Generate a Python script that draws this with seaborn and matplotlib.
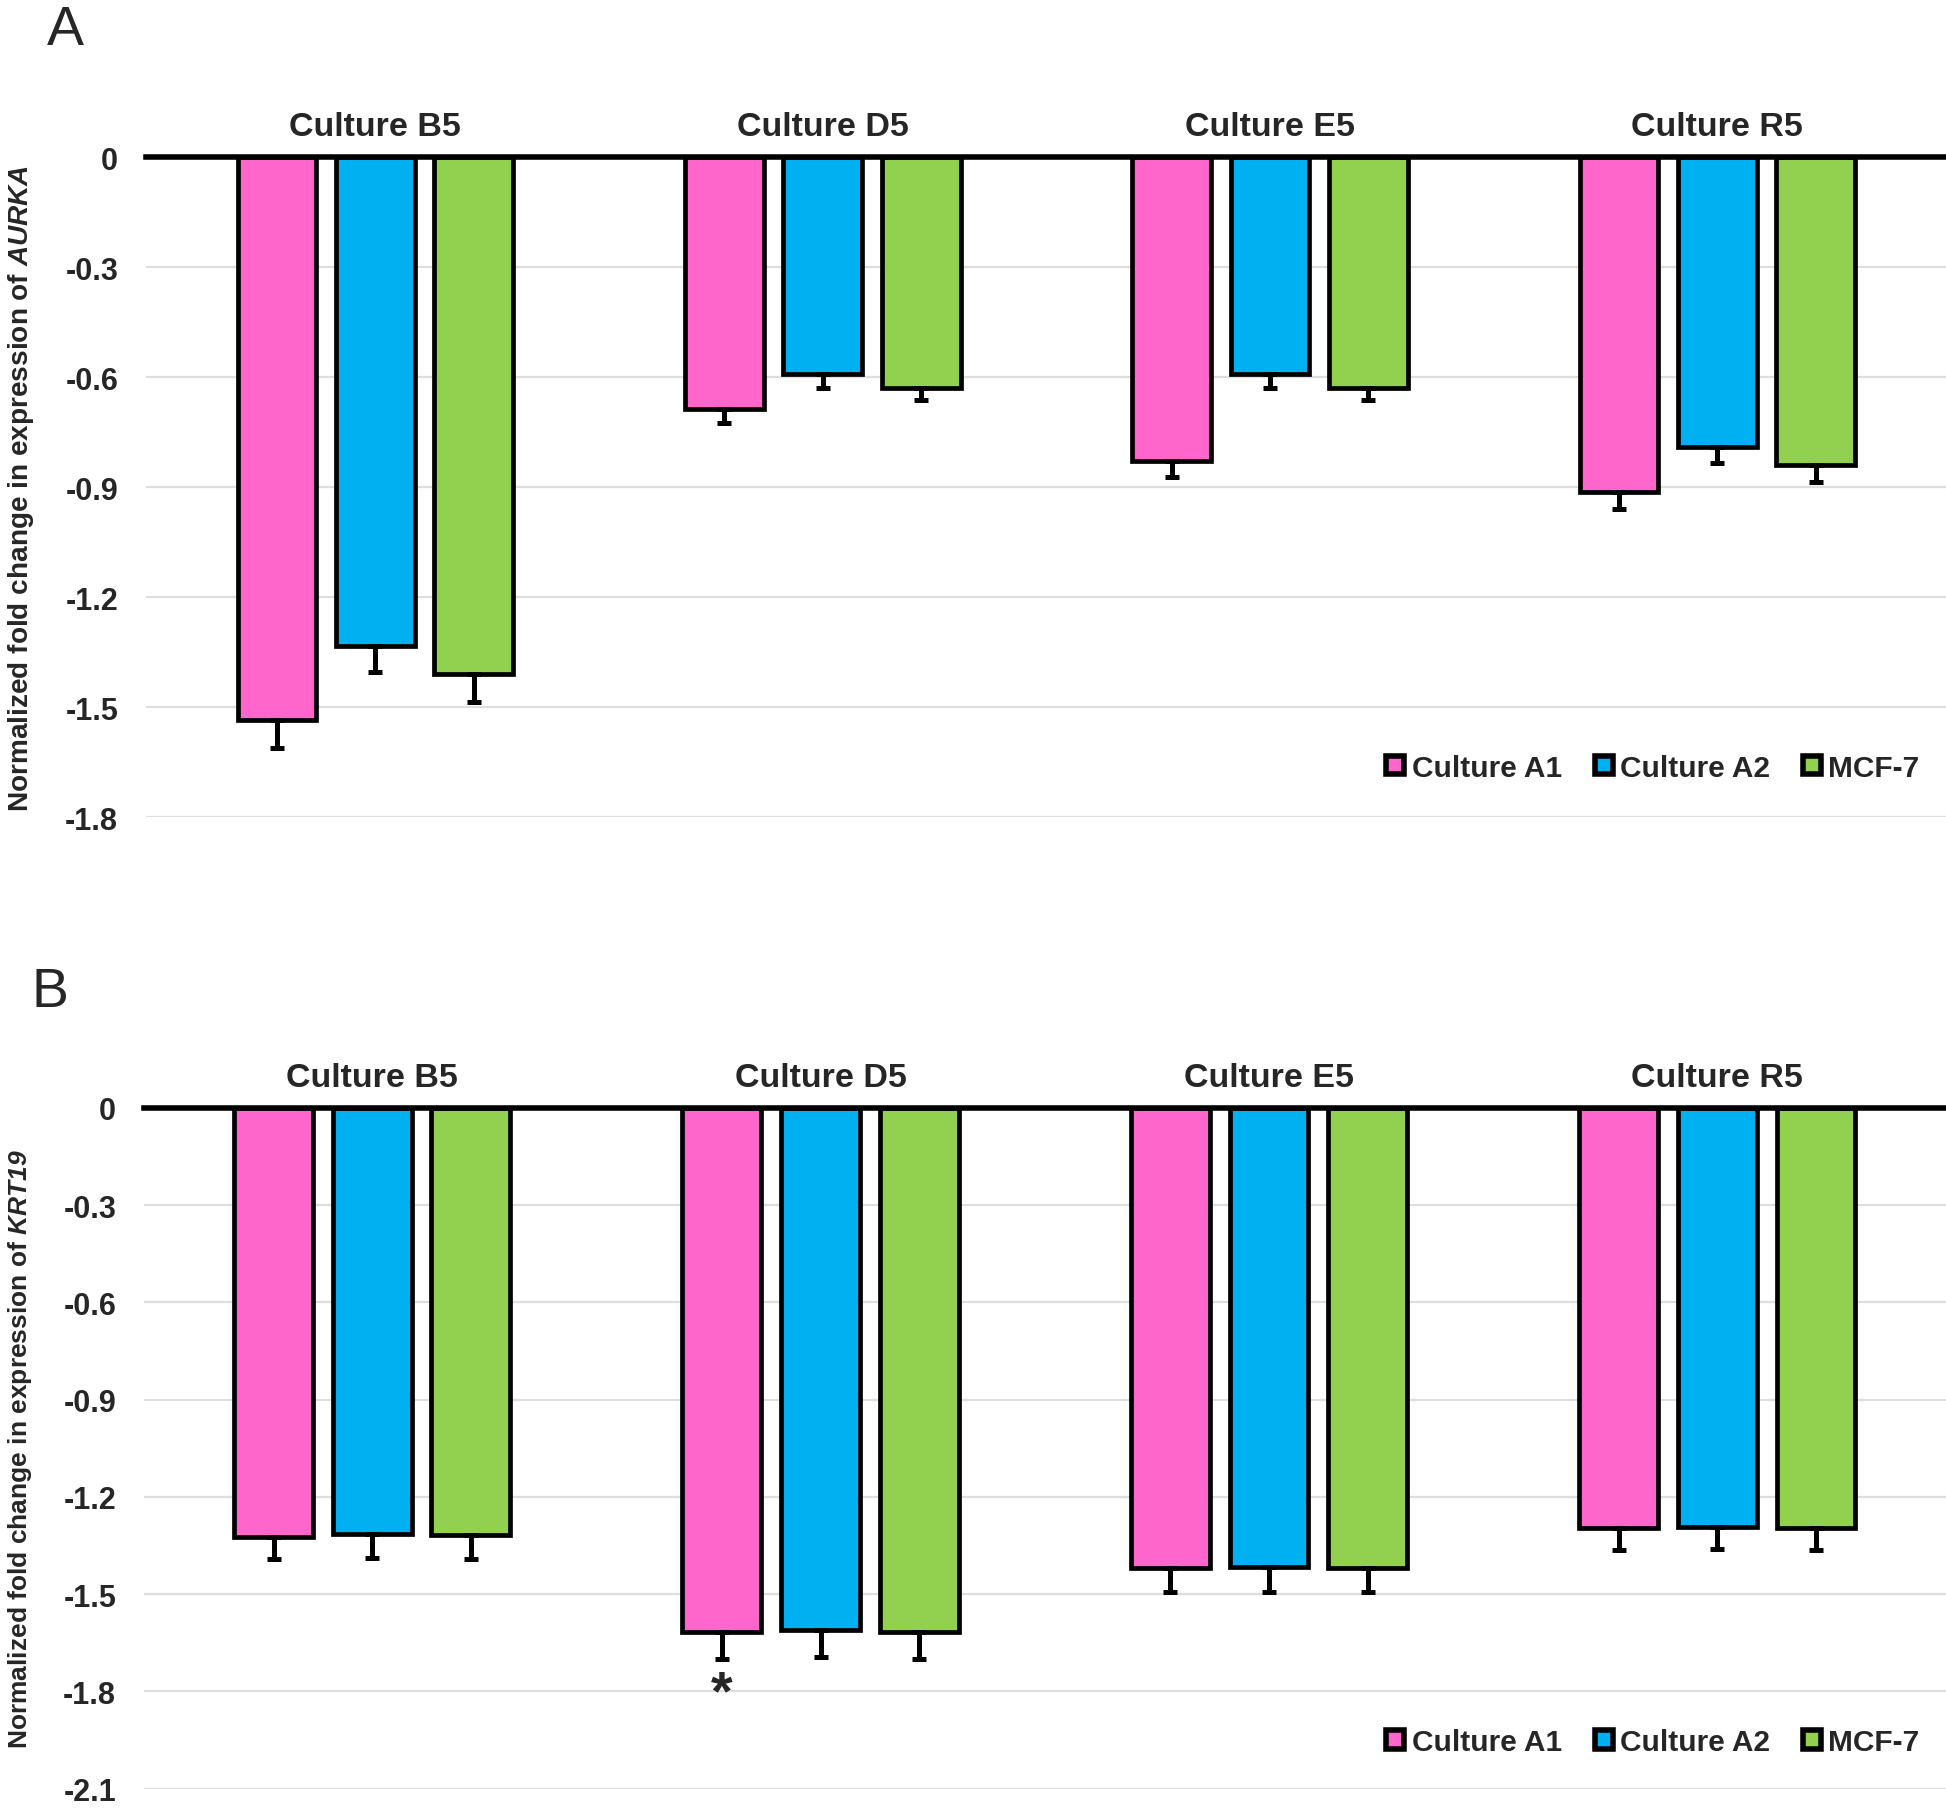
import matplotlib
matplotlib.use("Agg")
import matplotlib.pyplot as plt
import seaborn as sns
import pandas as pd
import numpy as np
from matplotlib.patches import Patch

# ---------------- data ----------------
groups = ["Culture B5", "Culture D5", "Culture E5", "Culture R5"]
series = ["Culture A1", "Culture A2", "MCF-7"]
colors = ["#FF66CC", "#00B0F0", "#92D050"]

aurka_a1 = [-1.535, -0.687, -0.829, -0.913]
aurka_a2 = [-1.333, -0.592, -0.592, -0.791]
aurka_mcf = [-1.410, -0.629, -0.629, -0.839]
aurka_err_a1 = [0.078, 0.037, 0.044, 0.047]
aurka_err_a2 = [0.071, 0.037, 0.037, 0.044]
aurka_err_mcf = [0.075, 0.034, 0.034, 0.047]

krt19_a1 = [-1.323, -1.618, -1.420, -1.296]
krt19_a2 = [-1.315, -1.610, -1.416, -1.293]
krt19_mcf = [-1.319, -1.618, -1.420, -1.296]
krt19_err_a1 = [0.070, 0.082, 0.074, 0.068]
krt19_err_a2 = [0.072, 0.084, 0.076, 0.068]
krt19_err_mcf = [0.072, 0.082, 0.074, 0.068]

aurka_ticks = [0, -0.3, -0.6, -0.9, -1.2, -1.5, -1.8]
krt19_ticks = [0, -0.3, -0.6, -0.9, -1.2, -1.5, -1.8, -2.1]

# ---------------- style ----------------
sns.set_theme(style="white")
plt.rcParams["font.family"] = ["Liberation Sans", "DejaVu Sans"]
plt.rcParams["axes.unicode_minus"] = False
plt.rcParams["mathtext.fontset"] = "custom"
plt.rcParams["mathtext.it"] = "Liberation Sans:italic:bold"
plt.rcParams["mathtext.rm"] = "Liberation Sans:italic:bold"

fig = plt.figure(figsize=(19.46, 18.15), dpi=100)
axA = fig.add_axes([0.075, 0.5493, 0.925, 0.3636])
axB = fig.add_axes([0.074, 0.014, 0.926, 0.375])


def make_df(a1, a2, mcf):
    rows = []
    for s, vals in zip(series, [a1, a2, mcf]):
        for g, v in zip(groups, vals):
            rows.append({"group": g, "series": s, "value": v})
    return pd.DataFrame(rows)


def draw(ax, vals, errs, ticks, ylabel, ylabel_size, legend_y, xlim):
    df = make_df(*vals)
    sns.barplot(data=df, x="group", y="value", hue="series", order=groups,
                hue_order=series, palette=colors, saturation=1,
                width=0.66, gap=0.2,
                errorbar=None, edgecolor="black", linewidth=3.4,
                legend=False, ax=ax)
    # error bars (lower only)
    for cont, v, e in zip(ax.containers, vals, errs):
        xs = [p.get_x() + p.get_width() / 2 for p in cont.patches]
        ax.errorbar(xs, v, yerr=[e, [0] * len(e)], fmt="none",
                    ecolor="black", elinewidth=3.6, capsize=5, capthick=3.6,
                    zorder=1)
    ax.set_xlim(*xlim)
    ax.set_ylim(ticks[-1], 0)
    ax.set_yticks(ticks)
    ax.set_yticklabels(["{:g}".format(t) for t in ticks],
                       fontsize=22, fontweight="bold")
    ax.yaxis.grid(True, color="#dedede", linewidth=1.6)
    ax.set_axisbelow(True)
    ax.xaxis.tick_top()
    ax.set_xticks(range(len(groups)))
    ax.set_xticklabels(groups, fontsize=24.5, fontweight="bold")
    ax.tick_params(axis="x", length=0, pad=11)
    ax.tick_params(axis="y", length=0, pad=20)
    ax.set_xlabel("")
    ax.set_ylabel(ylabel, fontsize=ylabel_size, fontweight="bold")
    ax.yaxis.set_label_coords(-0.061, 0.5)
    for s in ["left", "right", "bottom"]:
        ax.spines[s].set_visible(False)
    ax.spines["top"].set_visible(True)
    ax.spines["top"].set_color("black")
    ax.spines["top"].set_linewidth(4)
    ax.spines["top"].set_zorder(5)
    handles = [Patch(facecolor=c, edgecolor="black", linewidth=4) for c in colors]
    ax.legend(handles, series, ncol=3, loc="center right",
              bbox_to_anchor=(0.992, legend_y), frameon=False,
              handlelength=0.6, handleheight=0.6, handletextpad=0.25,
              columnspacing=1.1, borderaxespad=0,
              prop={"weight": "bold", "size": 21.5})


draw(axA, [aurka_a1, aurka_a2, aurka_mcf],
     [aurka_err_a1, aurka_err_a2, aurka_err_mcf], aurka_ticks,
     r"Normalized fold change in expression of $\mathit{AURKA}$", 20.2, 0.075,
     (-0.513, 3.511))
draw(axB, [krt19_a1, krt19_a2, krt19_mcf],
     [krt19_err_a1, krt19_err_a2, krt19_err_mcf], krt19_ticks,
     r"Normalized fold change in expression of $\mathit{KRT19}$", 19.0, 0.068,
     (-0.509, 3.510))

# significance asterisk under Culture D5 / Culture A1 in panel B
p = axB.containers[0].patches[1]
axB.text(p.get_x() + p.get_width() / 2, krt19_a1[1] - krt19_err_a1[1] - 0.03,
         "*", ha="center", va="top", fontsize=40, fontweight="bold")

fig.text(0.024, 0.997, "A", fontsize=40, va="top", ha="left")
fig.text(0.016, 0.467, "B", fontsize=40, va="top", ha="left")

fig.savefig("out.png", dpi=100)
